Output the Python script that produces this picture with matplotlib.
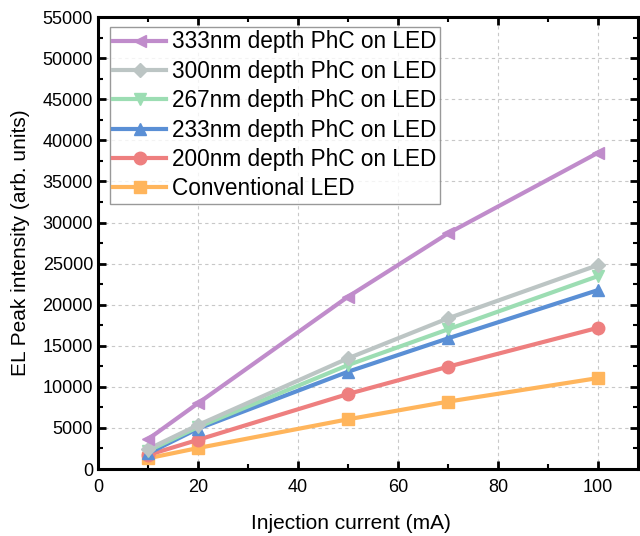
import matplotlib.pyplot as plt
from matplotlib.ticker import MultipleLocator

plt.rcParams['font.family'] = ['Liberation Sans', 'DejaVu Sans']

current = [10, 20, 50, 70, 100]
conventional = [1300, 2550, 6050, 8200, 11070]
phc_200 = [1700, 3550, 9130, 12450, 17190]
phc_233 = [1900, 4900, 11840, 15900, 21780]
phc_267 = [2200, 5100, 12650, 17000, 23480]
phc_300 = [2400, 5350, 13470, 18340, 24820]
phc_333 = [3620, 8000, 20970, 28680, 38500]

series = [
    ('333nm depth PhC on LED', phc_333, '#C08CCB', '<'),
    ('300nm depth PhC on LED', phc_300, '#BCC5C4', 'D'),
    ('267nm depth PhC on LED', phc_267, '#9CDDB3', 'v'),
    ('233nm depth PhC on LED', phc_233, '#5A8FD5', '^'),
    ('200nm depth PhC on LED', phc_200, '#EE7F7F', 'o'),
    ('Conventional LED', conventional, '#FFB55C', 's'),
]

fig = plt.figure(figsize=(6.4, 5.36), dpi=100)
ax = fig.add_axes([0.153, 0.125, 0.844, 0.843])

# draw bottom series first so the top ones sit above
handles = []
for i, (label, vals, color, mk) in enumerate(reversed(series)):
    ms = 7.5 if mk == 'D' else 9
    h, = ax.plot(current, vals, color=color, marker=mk, markersize=ms,
                 linewidth=3, label=label, zorder=3 + i)
    handles.append(h)
handles = handles[::-1]

ax.set_xlim(0, 108)
ax.set_ylim(0, 55000)
ax.xaxis.set_major_locator(MultipleLocator(20))
ax.xaxis.set_minor_locator(MultipleLocator(10))
ax.yaxis.set_major_locator(MultipleLocator(5000))
ax.yaxis.set_minor_locator(MultipleLocator(2500))
ax.tick_params(which='both', direction='in', top=True, right=True, labelsize=13)
ax.tick_params(which='major', length=6, width=2)
ax.tick_params(which='minor', length=3.5, width=1.5)
ax.tick_params(axis='x', pad=7)
for s in ax.spines.values():
    s.set_linewidth(2.2)

ax.grid(True, which='major', linestyle=(0, (3, 3)), color='#C8C8C8', linewidth=0.8)
ax.set_axisbelow(True)

ax.set_xlabel('Injection current (mA)', fontsize=15)
ax.set_ylabel('EL Peak intensity (arb. units)', fontsize=15)
ax.xaxis.set_label_coords(0.469, -0.1)
ax.yaxis.set_label_coords(-0.125, 0.5)

leg = ax.legend(handles=handles, loc='upper left', fontsize=16.3, frameon=True,
                fancybox=False, edgecolor='#808080', handlelength=2.35,
                borderpad=0.15, labelspacing=0.28, handletextpad=0.25,
                bbox_to_anchor=(0.022, 0.978), borderaxespad=0)
leg.get_frame().set_linewidth(1)

fig.savefig('out.png', dpi=100)
